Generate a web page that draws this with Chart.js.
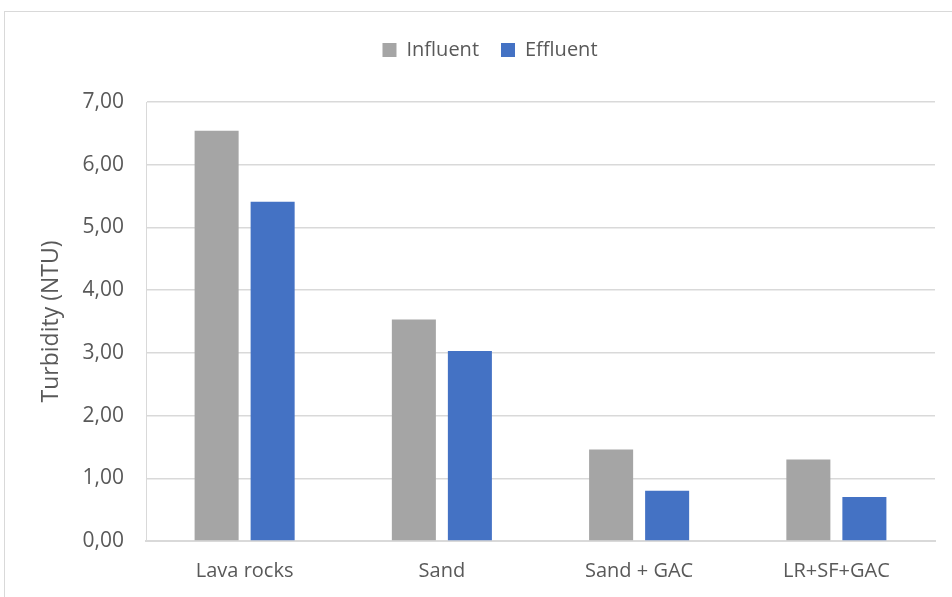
<!DOCTYPE html>
<html>
<head>
<meta charset="utf-8">
<script src="https://cdn.jsdelivr.net/npm/chart.js@4/dist/chart.umd.min.js"></script>
<style>
  html, body { margin: 0; padding: 0; background: #fff; overflow: hidden; }
  body { width: 952px; height: 597px; position: relative; }
  #frame {
    position: absolute; left: 4px; top: 11px;
    width: 972px; height: 600px;
    border: 1px solid #d9d9d9; box-sizing: border-box;
  }
  #frame canvas { display: block; }
</style>
</head>
<body>
<div id="frame"><canvas id="c"></canvas></div>
<script>
// Turbidity before and after each filter configuration
const categories = ['Lava rocks', 'Sand', 'Sand + GAC', 'LR+SF+GAC'];
const influent = [6.54, 3.53, 1.46, 1.30];
const effluent = [5.41, 3.03, 0.80, 0.70];
const yMin = 0, yMax = 7, yStep = 1;

const textColor = '#595959';
const gridColor = '#d9d9d9';
const fontFamily = '"Open Sans", "Noto Sans", sans-serif';

// Leaves extra room between the legend and the plot area
const legendSpacer = {
  id: 'legendSpacer',
  afterInit(chart) {
    const fit = chart.legend.fit;
    chart.legend.fit = function () { fit.call(this); this.height += 32; };
  }
};

const ctx = document.getElementById('c');
ctx.width = 970; ctx.height = 598;

new Chart(ctx, {
  type: 'bar',
  data: {
    labels: categories,
    datasets: [
      { label: 'Influent', data: influent, backgroundColor: '#a5a5a5',
        categoryPercentage: 0.568, barPercentage: 0.786 },
      { label: 'Effluent', data: effluent, backgroundColor: '#4472c4',
        categoryPercentage: 0.568, barPercentage: 0.786 }
    ]
  },
  plugins: [legendSpacer],
  options: {
    responsive: false,
    animation: false,
    devicePixelRatio: 1,
    layout: { padding: { left: 0, right: 0, top: 6, bottom: 0 } },
    plugins: {
      tooltip: { enabled: false },
      legend: {
        position: 'top',
        labels: {
          color: textColor,
          font: { family: fontFamily, size: 20 },
          boxWidth: 14, boxHeight: 14,
          padding: 22
        }
      }
    },
    scales: {
      x: {
        grid: { display: false, drawTicks: false },
        border: { color: gridColor, width: 2 },
        ticks: { color: textColor, font: { family: fontFamily, size: 20 }, padding: 18 },
        afterFit: (s) => { s.height = 69; }
      },
      y: {
        min: yMin, max: yMax,
        grid: { color: gridColor, lineWidth: 1.5, drawTicks: false },
        border: { color: gridColor, width: 1 },
        ticks: {
          stepSize: yStep,
          color: textColor,
          font: { family: fontFamily, size: 21 },
          padding: 22,
          callback: (v) => v.toFixed(2).replace('.', ',')
        },
        title: {
          display: true, text: 'Turbidity (NTU)', color: textColor,
          font: { family: fontFamily, size: 23 }, padding: { top: 33, bottom: 0 }
        },
        afterFit: (s) => { s.width = 141; }
      },
      // empty right-hand margin so the legend centres over the whole frame
      yRight: {
        position: 'right',
        min: yMin, max: yMax,
        grid: { display: false, drawTicks: false },
        border: { display: false },
        ticks: { display: false },
        afterFit: (s) => { s.width = 40; }
      }
    }
  }
});
</script>
</body>
</html>
